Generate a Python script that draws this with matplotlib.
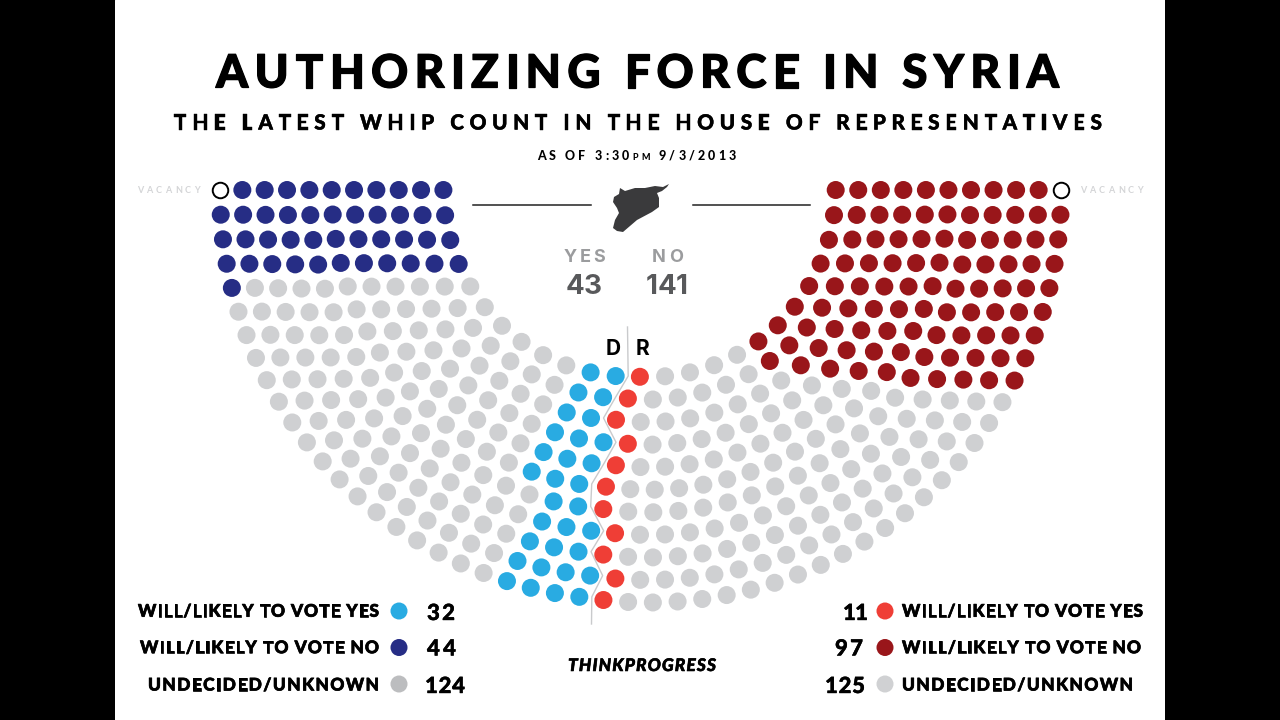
import numpy as np
import matplotlib
matplotlib.use('Agg')
import matplotlib.pyplot as plt
import matplotlib.text as mtext
import matplotlib.patheffects as pe
from matplotlib import font_manager as fm
from matplotlib.ft2font import LoadFlags
from matplotlib.patches import Polygon
from matplotlib.transforms import IdentityTransform

# seats per arc, inner arc first
d_seats = [12, 13, 14, 16, 17, 18, 19, 21, 22, 24, 25]
d_yes = [2, 2, 2, 3, 3, 3, 2, 3, 3, 4, 4]
d_no = [4, 4, 4, 4, 4, 4, 4, 4, 4, 4, 4]
d_vacant = [0, 0, 0, 0, 0, 0, 0, 0, 0, 0, 1]
r_seats = [13, 15, 17, 18, 20, 22, 23, 24, 26, 27, 29]
r_yes = [1, 1, 1, 1, 1, 1, 1, 1, 1, 1, 1]
r_no = [8, 9, 9, 9, 9, 9, 9, 9, 9, 9, 8]
r_vacant = [0, 0, 0, 0, 0, 0, 0, 0, 0, 0, 1]

legend_labels = ['WILL/LIKELY TO VOTE YES', 'WILL/LIKELY TO VOTE NO', 'UNDECIDED/UNKNOWN']
d_totals = ['32', '44', '124']
r_totals = ['11', '97', '125']

# how far round each arc the seats run, degrees from the horizontal
d_sweep = [85.6, 82.6, 80.3, 84.0, 82.0, 80.2, 80.7, 83.5, 81.9, 84.1, 82.9]
r_sweep = [92.7, 95.7, 98.1, 94.7, 96.8, 98.2, 98.1, 95.6, 97.1, 94.9, 96.3]

syria_x = [620, 625, 635, 645, 655, 663, 669, 667, 662, 657, 659, 659, 652, 637, 623, 617, 613, 615, 619, 617, 613, 614, 619]
syria_y = [188, 191, 188, 188, 186, 187, 184, 187, 191, 193, 198, 207, 212, 220, 232, 231, 228, 220, 213, 208, 202, 197, 194]

LIGHT_BLUE = '#29abe2'
NAVY = '#262d85'
DARK_RED = '#99161a'
RED = '#ef3e36'
GREY = '#cfd0d2'


class SpacedText(mtext.Text):
    # one string, drawn letter by letter so it spreads out to a given width
    def __init__(self, x, y, text, width, small=None, fatten=0, **kw):
        super().__init__(x, y, text, **kw)
        self.target_width = width
        self.small = small
        self.fatten = fatten

    def draw(self, renderer):
        prop = self.get_fontproperties()
        font = fm.get_font(fm.findfont(prop))
        dpi = self.figure.dpi
        sizes, advances = [], []
        for i, ch in enumerate(self.get_text()):
            size = prop.get_size_in_points()
            if self.small and self.small[0] <= i < self.small[1]:
                size *= 0.72
            font.set_size(size, dpi)
            glyph = font.load_char(ord(ch), flags=LoadFlags.NO_HINTING)
            sizes.append(size)
            advances.append(glyph.linearHoriAdvance / 65536)
        gap = (self.target_width - sum(advances)) / max(len(advances) - 1, 1)
        px, py = self.get_transform().transform(self.get_position())
        for ch, size, adv in zip(self.get_text(), sizes, advances):
            p = prop.copy()
            p.set_size(size)
            t = mtext.Text(px, py, ch, fontproperties=p, color=self.get_color(),
                           transform=IdentityTransform(), ha='left', va='baseline')
            if self.fatten:
                t.set_path_effects([pe.withStroke(linewidth=self.fatten, foreground=self.get_color())])
            t.set_figure(self.figure)
            t.draw(renderer)
            px += adv + gap


def spaced(x0, x1, base, s, size, color='black', family='Lato', weight='black', style='normal', small=None, fatten=0):
    prop = fm.FontProperties(family=family, weight=weight, style=style, size=size)
    t = SpacedText(x0, base, s, x1 - x0, small=small, fatten=fatten, fontproperties=prop, color=color,
                   transform=ax.transData, ha='left', va='baseline')
    ax.add_artist(t)


def seats(cx, side, seat_counts, sweep):
    xs, ys = [], []
    for k, n in enumerate(seat_counts):
        r = RADII[side][k]
        ang = np.radians(np.linspace(0, sweep[k], n))
        xs.append(cx + side_sign[side] * r * np.cos(ang))
        ys.append(190 + r * np.sin(ang))
    return xs, ys


fig = plt.figure(figsize=(12.8, 7.2), dpi=100, facecolor='black')
ax = fig.add_axes([115 / 1280, 0, 1050 / 1280, 1])
ax.set_xlim(115, 1165)
ax.set_ylim(720, 0)
ax.axis('off')
ax.add_patch(plt.Rectangle((115, 0), 1050, 720, color='white', zorder=0))

RADII = {'D': 186.6 + 22.34 * np.arange(11), 'R': 187.0 + 22.55 * np.arange(11)}
side_sign = {'D': -1, 'R': 1}
dx, dy = seats(630, 'D', d_seats, d_sweep)
rx, ry = seats(648.7, 'R', r_seats, r_sweep)

# zigzag between the parties follows the last D seat of each arc
zig_x = [627.5] + [dx[k][-1] + 12.5 for k in range(11)] + [591.5]
zig_y = [327] + [dy[k][-1] for k in range(11)] + [624]
ax.plot(zig_x, zig_y, color='#c9cacc', lw=1, zorder=1)

for xs, ys, yes, no, vac, yes_col, no_col in [(dx, dy, d_yes, d_no, d_vacant, LIGHT_BLUE, NAVY),
                                              (rx, ry, r_yes, r_no, r_vacant, RED, DARK_RED)]:
    for k in range(11):
        n = len(xs[k])
        cols = [no_col] * (vac[k] + no[k]) + [GREY] * (n - vac[k] - no[k] - yes[k]) + [yes_col] * yes[k]
        ax.scatter(xs[k][vac[k]:], ys[k][vac[k]:], s=168, c=cols[vac[k]:], linewidths=0, zorder=3)
        if vac[k]:
            ax.scatter(xs[k][:vac[k]], ys[k][:vac[k]], s=125, c='white', edgecolors='black', linewidths=1.4, zorder=3)

# header
spaced(216, 1059, 87.5, 'AUTHORIZING FORCE IN SYRIA', 33, fatten=0.9)
spaced(174, 1102, 129.5, 'THE LATEST WHIP COUNT IN THE HOUSE OF REPRESENTATIVES', 15, fatten=0.3)
spaced(537, 736, 160, 'AS OF 3:30PM 9/3/2013', 9, small=(10, 12))
spaced(137, 200, 193, 'VACANCY', 6.5, color='#d4d5d7', weight='bold')
spaced(1080, 1143, 193, 'VACANCY', 6.5, color='#d4d5d7', weight='bold')

ax.plot([473, 591], [205, 205], color='#222222', lw=1.1)
ax.plot([693, 810], [205, 205], color='#222222', lw=1.1)
ax.add_patch(Polygon(np.column_stack([syria_x, syria_y]), closed=True, fc='#3a3a3c', ec='none'))

spaced(564, 605, 262, 'YES', 13, color='#9b9c9e', family='Inter', weight='bold')
spaced(652, 683, 262, 'NO', 13, color='#9b9c9e', family='Inter', weight='bold')
spaced(566, 602, 294, '43', 20, color='#58595b', family='Inter', weight='bold')
spaced(646, 688, 294, '141', 20, color='#58595b', family='Inter', weight='bold')
spaced(606, 620, 355, 'D', 15, family='Inter', weight='bold')
spaced(636, 650, 355, 'R', 15, family='Inter', weight='bold')

# legends
base_y = [616.7, 653.2, 690.5]
num_y = [620, 655.5, 693]
mid_y = [611, 647.5, 684]
left_x0 = [138, 140, 148]
right_x1 = [1143, 1141, 1133]
d_num_x = [(427, 455), (427, 456), (425, 465)]
r_num_x = [(843, 868), (835, 863), (825, 865)]
d_cols = [LIGHT_BLUE, NAVY, '#bcbdbf']
r_cols = [RED, DARK_RED, '#d0d1d3']
for i in range(3):
    spaced(left_x0[i], 379, base_y[i], legend_labels[i], 12.5, fatten=0.5)
    spaced(902, right_x1[i], base_y[i], legend_labels[i], 12.5, fatten=0.5)
    spaced(d_num_x[i][0], d_num_x[i][1], num_y[i], d_totals[i], 16, fatten=0.3)
    spaced(r_num_x[i][0], r_num_x[i][1], num_y[i], r_totals[i], 16, fatten=0.3)
ax.scatter([399] * 3, mid_y, s=150, c=d_cols, linewidths=0)
ax.scatter([885] * 3, mid_y, s=150, c=r_cols, linewidths=0)

spaced(568, 716, 671, 'THINKPROGRESS', 12.5, style='italic', fatten=0.4)

fig.savefig('out.png', dpi=100, facecolor='black')
